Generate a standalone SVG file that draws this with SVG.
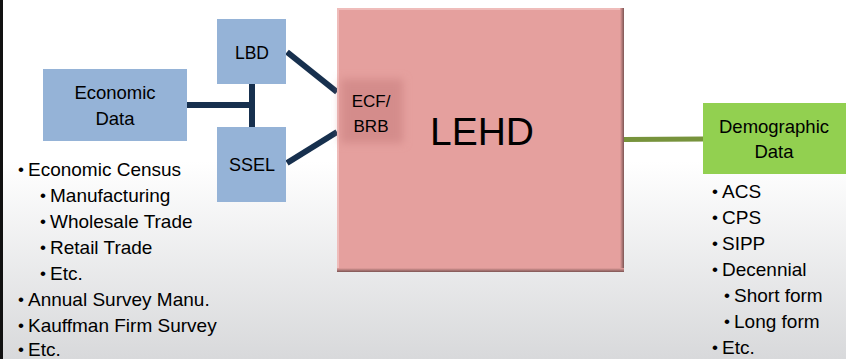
<svg xmlns="http://www.w3.org/2000/svg" width="846" height="359" viewBox="0 0 846 359">
<defs>
<linearGradient id="bg" x1="0" y1="0" x2="0" y2="1">
<stop offset="0" stop-color="#ffffff"/>
<stop offset="0.45" stop-color="#ffffff"/>
<stop offset="1" stop-color="#d8d9db"/>
</linearGradient>
<filter id="blur" x="-30%" y="-30%" width="160%" height="160%">
<feGaussianBlur stdDeviation="4"/>
</filter>
<linearGradient id="edgeR" x1="0" y1="0" x2="1" y2="0">
<stop offset="0" stop-color="#e5a09e"/>
<stop offset="1" stop-color="#7d5554"/>
</linearGradient>
<linearGradient id="edgeB" x1="0" y1="0" x2="0" y2="1">
<stop offset="0" stop-color="#e5a09e"/>
<stop offset="1" stop-color="#7d5554"/>
</linearGradient>
</defs>
<style>
text{font-family:"Liberation Sans","Open Sans",sans-serif;fill:#000}
.blue{fill:#95b3d7}
.lbl{font-size:18.5px;text-anchor:middle}
.lst{font-size:19px}
.b{font-size:17px}
.nav{stroke:#17304e;stroke-width:6;fill:none}
</style>
<rect x="0" y="0" width="846" height="359" fill="url(#bg)"/>
<rect x="0" y="0" width="3" height="359" fill="#111"/>

<g id="connectors">
<path class="nav" d="M187 105H252"/>
<path class="nav" d="M252 84V127" stroke-width="7"/>
<path class="nav" d="M287 52L337 92"/>
<path class="nav" d="M287 163L337 132"/>
<path d="M624 139.5L703 139" stroke="#77933c" stroke-width="5" fill="none"/>
</g>

<g id="economic-data">
<rect class="blue" x="43" y="69" width="144" height="72"/>
<text class="lbl" x="115" y="99">Economic</text>
<text class="lbl" x="115" y="125">Data</text>
</g>

<g id="lbd">
<rect class="blue" x="217" y="19" width="69" height="65"/>
<text class="lbl" x="252" y="59" style="font-size:17.5px">LBD</text>
</g>

<g id="ssel">
<rect class="blue" x="217" y="127" width="69" height="75"/>
<text class="lbl" x="252" y="171" style="font-size:18px">SSEL</text>
</g>

<g id="lehd">
<rect x="337" y="8" width="287" height="264" fill="#e5a09e"/>
<rect x="337" y="8" width="287" height="2" fill="#efbcba"/>
<rect x="337" y="8" width="2" height="264" fill="#efbcba"/>
<rect x="620" y="8" width="4" height="264" fill="url(#edgeR)"/>
<rect x="337" y="268" width="287" height="4" fill="url(#edgeB)"/>
<rect x="341" y="79" width="62" height="64" fill="#d48c8b" filter="url(#blur)"/>
<text x="371" y="107" style="font-size:17px;text-anchor:middle">ECF/</text>
<text x="371" y="132" style="font-size:17px;text-anchor:middle">BRB</text>
<text x="482" y="145" style="font-size:39px;text-anchor:middle">LEHD</text>
</g>

<g id="demographic-data">
<rect x="703" y="103" width="143" height="71" fill="#92d050"/>
<text class="lbl" x="774" y="133">Demographic</text>
<text class="lbl" x="774" y="158">Data</text>
</g>

<g id="economic-list">
<text class="lst" y="176"><tspan class="b" x="18" dy="-1">•</tspan><tspan x="28" dy="1">Economic Census</tspan></text>
<text class="lst" y="202"><tspan class="b" x="40" dy="-1">•</tspan><tspan x="50" dy="1">Manufacturing</tspan></text>
<text class="lst" y="228"><tspan class="b" x="40" dy="-1">•</tspan><tspan x="50" dy="1">Wholesale Trade</tspan></text>
<text class="lst" y="254"><tspan class="b" x="40" dy="-1">•</tspan><tspan x="50" dy="1">Retail Trade</tspan></text>
<text class="lst" y="280"><tspan class="b" x="40" dy="-1">•</tspan><tspan x="50" dy="1">Etc.</tspan></text>
<text class="lst" y="306"><tspan class="b" x="18" dy="-1">•</tspan><tspan x="28" dy="1">Annual Survey Manu.</tspan></text>
<text class="lst" y="332"><tspan class="b" x="18" dy="-1">•</tspan><tspan x="28" dy="1">Kauffman Firm Survey</tspan></text>
<text class="lst" y="356"><tspan class="b" x="18" dy="-1">•</tspan><tspan x="28" dy="1">Etc.</tspan></text>
</g>

<g id="demographic-list">
<text class="lst" y="198"><tspan class="b" x="712" dy="-1">•</tspan><tspan x="722" dy="1">ACS</tspan></text>
<text class="lst" y="224"><tspan class="b" x="712" dy="-1">•</tspan><tspan x="722" dy="1">CPS</tspan></text>
<text class="lst" y="250"><tspan class="b" x="712" dy="-1">•</tspan><tspan x="722" dy="1">SIPP</tspan></text>
<text class="lst" y="276"><tspan class="b" x="712" dy="-1">•</tspan><tspan x="722" dy="1">Decennial</tspan></text>
<text class="lst" y="302"><tspan class="b" x="724" dy="-1">•</tspan><tspan x="734" dy="1">Short form</tspan></text>
<text class="lst" y="328"><tspan class="b" x="724" dy="-1">•</tspan><tspan x="734" dy="1">Long form</tspan></text>
<text class="lst" y="354"><tspan class="b" x="712" dy="-1">•</tspan><tspan x="722" dy="1">Etc.</tspan></text>
</g>
</svg>
